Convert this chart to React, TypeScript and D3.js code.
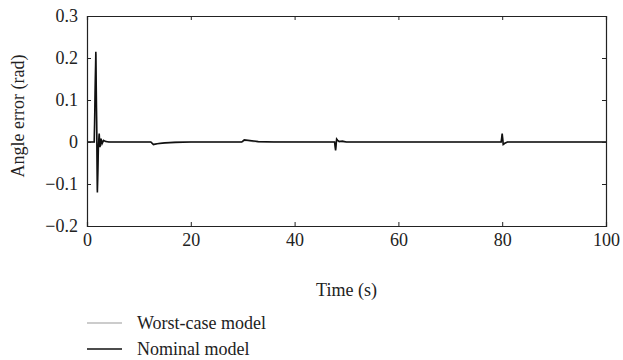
import React, { useEffect, useRef } from "react";
import * as d3 from "d3";

// time (s) and angle error (rad)
const nominalTime = [0, 1.4, 1.7, 1.85, 2.0, 2.2, 2.35, 2.5, 2.7, 2.9, 3.2, 3.6, 4.2, 12.3, 12.8, 13.5, 15, 17, 20, 29.8, 30.3, 31, 33, 36, 47.7, 47.9, 48.1, 48.3, 48.6, 49.2, 50, 79.8, 80.0, 80.2, 80.5, 81, 82, 100];
const nominalValue = [0, 0, 0.215, 0.06, -0.12, -0.01, 0.02, -0.012, 0.008, -0.004, 0.004, 0.001, 0, 0, -0.006, -0.004, -0.002, -0.001, 0, 0, 0.005, 0.004, 0.001, 0, 0, -0.02, 0.007, 0.004, 0.001, 0.002, 0, 0, 0.02, -0.006, -0.003, 0, 0, 0];

const worstTime = [0, 1.4, 1.7, 1.85, 2.0, 2.2, 2.35, 2.5, 2.7, 3.0, 3.5, 4.5, 12.3, 12.8, 14, 17, 30, 30.4, 32, 47.7, 47.9, 48.1, 48.5, 49.5, 79.8, 80.0, 80.2, 81, 100];
const worstValue = [0, 0, 0.21, 0.05, -0.115, -0.008, 0.018, -0.01, 0.006, 0.003, 0.002, 0, 0, -0.005, -0.003, 0, 0, 0.004, 0.001, 0, -0.018, 0.006, 0.002, 0, 0, 0.018, -0.005, 0, 0];

const xTicks = [0, 20, 40, 60, 80, 100];
const yTicks = [-0.2, -0.1, 0, 0.1, 0.2, 0.3];

const App: React.FC = () => {
    const svgRef = useRef<SVGSVGElement | null>(null);

    useEffect(() => {
        const width = 623;
        const height = 360;
        const margin = { top: 16, right: 17, bottom: 134, left: 87 };
        const w = width - margin.left - margin.right;
        const h = height - margin.top - margin.bottom;
        const font = "'Liberation Serif', 'DejaVu Serif', serif";
        const fontSize = "18px";

        const root = d3.select(svgRef.current);
        root.selectAll("*").remove();
        root.attr("width", width).attr("height", height);

        const svg = root.append("g").attr("transform", `translate(${margin.left},${margin.top})`);

        const x = d3.scaleLinear().domain([0, 100]).range([0, w]);
        const y = d3.scaleLinear().domain([-0.2, 0.3]).range([h, 0]);

        const fmt = (d: number) => (d < 0 ? "\u2212" + Math.abs(d) : String(d));

        // axes with inward ticks on all four sides
        const bottom = svg.append("g").attr("transform", `translate(0,${h})`)
            .call(d3.axisBottom(x).tickValues(xTicks).tickSize(-4).tickPadding(7).tickFormat((d) => String(d)));
        const top = svg.append("g")
            .call(d3.axisTop(x).tickValues(xTicks).tickSize(-4).tickFormat(() => ""));
        const left = svg.append("g")
            .call(d3.axisLeft(y).tickValues(yTicks).tickSize(-4).tickPadding(9).tickFormat((d) => fmt(+d)));
        const right = svg.append("g").attr("transform", `translate(${w},0)`)
            .call(d3.axisRight(y).tickValues(yTicks).tickSize(-4).tickFormat(() => ""));

        [bottom, top, left, right].forEach((g) => {
            g.selectAll("path").attr("stroke", "#222").attr("stroke-width", 1.2);
            g.selectAll("line").attr("stroke", "#222");
            g.selectAll("text").attr("fill", "#222").style("font-family", font).style("font-size", fontSize);
        });

        const line = d3.line<[number, number]>().x((d) => x(d[0])).y((d) => y(d[1]));

        svg.append("path")
            .datum(worstTime.map((t, i) => [t, worstValue[i]] as [number, number]))
            .attr("d", line)
            .attr("fill", "none")
            .attr("stroke", "#999")
            .attr("stroke-width", 1.2);

        svg.append("path")
            .datum(nominalTime.map((t, i) => [t, nominalValue[i]] as [number, number]))
            .attr("d", line)
            .attr("fill", "none")
            .attr("stroke", "#111")
            .attr("stroke-width", 1.6);

        // axis titles
        svg.append("text")
            .attr("x", w / 2)
            .attr("y", h + 70)
            .attr("text-anchor", "middle")
            .style("font-family", font)
            .style("font-size", fontSize)
            .attr("fill", "#222")
            .text("Time (s)");

        svg.append("text")
            .attr("transform", `translate(${-63},${h / 2 - 5}) rotate(-90)`)
            .attr("text-anchor", "middle")
            .style("font-family", font)
            .style("font-size", fontSize)
            .attr("fill", "#222")
            .text("Angle error (rad)");

        // legend
        const legend = [
            { label: "Worst-case model", color: "#999", sw: 1.2 },
            { label: "Nominal model", color: "#111", sw: 1.6 },
        ];
        legend.forEach((d, i) => {
            const ly = 323 + i * 26 - margin.top;
            svg.append("line")
                .attr("x1", 0).attr("x2", 35)
                .attr("y1", ly).attr("y2", ly)
                .attr("stroke", d.color).attr("stroke-width", d.sw);
            svg.append("text")
                .attr("x", 50)
                .attr("y", ly + 6)
                .style("font-family", font)
                .style("font-size", fontSize)
                .attr("fill", "#222")
                .text(d.label);
        });
    }, []);

    return <svg ref={svgRef} style={{ position: "absolute", left: 0, top: 0 }} />;
};

export default App;
